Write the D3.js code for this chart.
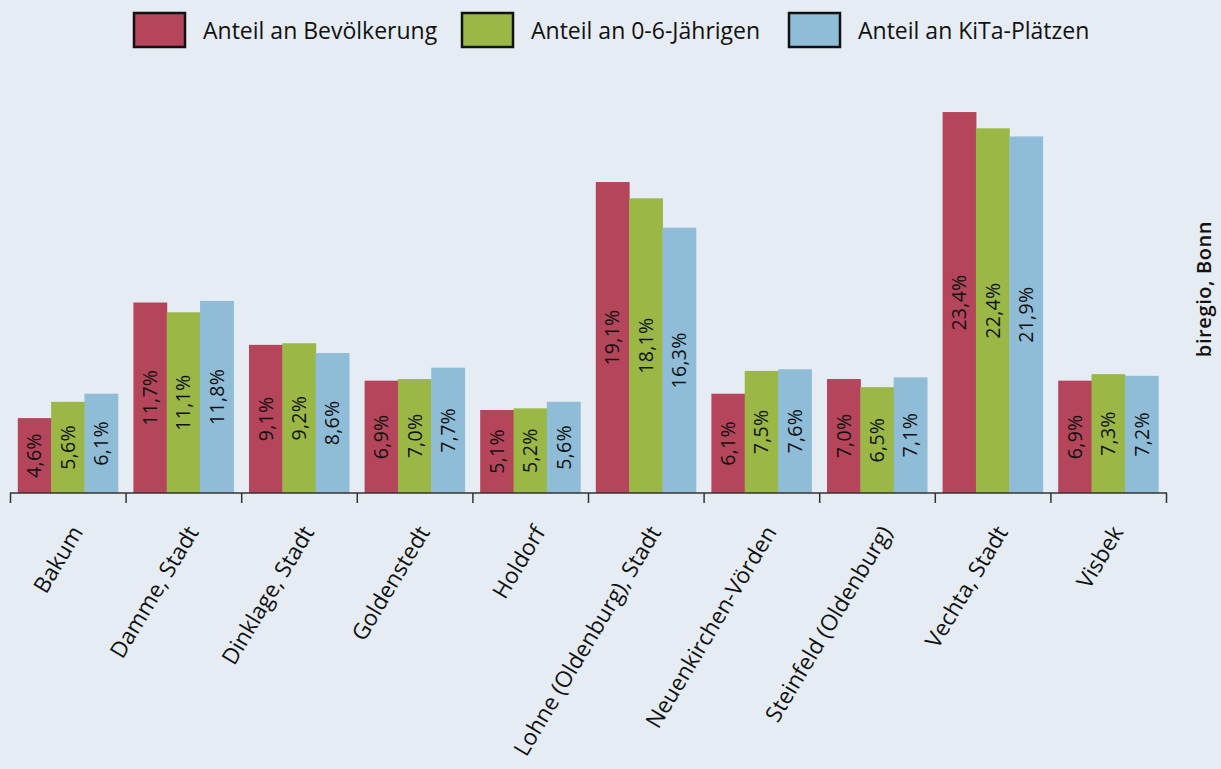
<!DOCTYPE html>
<html><head><meta charset="utf-8">
<script src="https://cdn.jsdelivr.net/npm/d3@7"></script>
<style>body{margin:0;background:#e6ecf3;}svg{display:block;}</style>
</head><body>
<svg id="c" width="1221" height="769"></svg>
<script>
const categories = ["Bakum","Damme, Stadt","Dinklage, Stadt","Goldenstedt","Holdorf","Lohne (Oldenburg), Stadt","Neuenkirchen-Vörden","Steinfeld (Oldenburg)","Vechta, Stadt","Visbek"];
const seriesNames = ["Anteil an Bevölkerung","Anteil an 0-6-Jährigen","Anteil an KiTa-Plätzen"];
const bevoelkerung = [4.6,11.7,9.1,6.9,5.1,19.1,6.1,7.0,23.4,6.9];
const kinder06 = [5.6,11.1,9.2,7.0,5.2,18.1,7.5,6.5,22.4,7.3];
const kitaPlaetze = [6.1,11.8,8.6,7.7,5.6,16.3,7.6,7.1,21.9,7.2];
const colors = ["#b5455a","#9bb847","#8fbcd6"];
const series = [bevoelkerung,kinder06,kitaPlaetze];

const svg = d3.select("#c");
svg.append("rect").attr("width",1221).attr("height",769).attr("fill","#e6ecf3");

const x0 = d3.scaleBand().domain(categories).range([10,1166]).paddingInner(0.135).paddingOuter(0.0675);
const x1 = d3.scaleBand().domain(d3.range(3)).range([0,x0.bandwidth()]);
const y = d3.scaleLinear().domain([0,25]).range([493,493-407]);

const g = svg.append("g");
categories.forEach((c,i)=>{
  series.forEach((s,j)=>{
    const v = s[i];
    const bx = x0(c)+x1(j);
    g.append("rect").attr("x",bx).attr("y",y(v)).attr("width",x1.bandwidth()+0.5).attr("height",y(0)-y(v)).attr("fill",colors[j]);
    const cx = bx + x1.bandwidth()/2, cy = (y(v)+y(0))/2;
    g.append("text").attr("transform",`translate(${cx},${cy}) rotate(-90)`)
      .attr("text-anchor","middle").attr("dy","0.36em")
      .attr("font-family","Open Sans").attr("font-size",19.5).attr("letter-spacing",0.3).attr("fill","#111")
      .text(v.toFixed(1).replace(".",",")+"%");
  });
});

// axis
const xa = d3.scaleBand().domain(categories).range([10,1166]);
const ax = svg.append("g");
ax.append("line").attr("x1",10).attr("x2",1167).attr("y1",493).attr("y2",493).attr("stroke","#333").attr("stroke-width",1.5);
const tickPos = categories.map(c=>xa(c)).concat([xa.range()[1]]);
tickPos.forEach(t=>{
  ax.append("line").attr("x1",t+0.5).attr("x2",t+0.5).attr("y1",493).attr("y2",503).attr("stroke","#333").attr("stroke-width",1.5);
});
categories.forEach(c=>{
  const cx = xa(c)+xa.bandwidth()/2;
  ax.append("text").attr("transform",`translate(${cx+16},${532}) rotate(-59)`)
    .attr("text-anchor","end").attr("font-family","Open Sans").attr("font-size",22.5).attr("fill","#111")
    .text(c);
});

// legend
const legX = [133,461,788];
seriesNames.forEach((n,j)=>{
  svg.append("rect").attr("x",legX[j]+1).attr("y",13).attr("width",51).attr("height",34)
    .attr("fill",colors[j]).attr("stroke","#111").attr("stroke-width",2.5);
  svg.append("text").attr("x",legX[j]+70).attr("y",39).attr("font-family","Open Sans").attr("font-size",23).attr("fill","#111").text(n);
});

svg.append("text").attr("transform","translate(1211,289) rotate(-90)").attr("text-anchor","middle")
  .attr("font-family","Open Sans").attr("font-size",20).attr("font-weight",600).attr("letter-spacing",0.6).attr("fill","#111").text("biregio, Bonn");
</script>
</body></html>
